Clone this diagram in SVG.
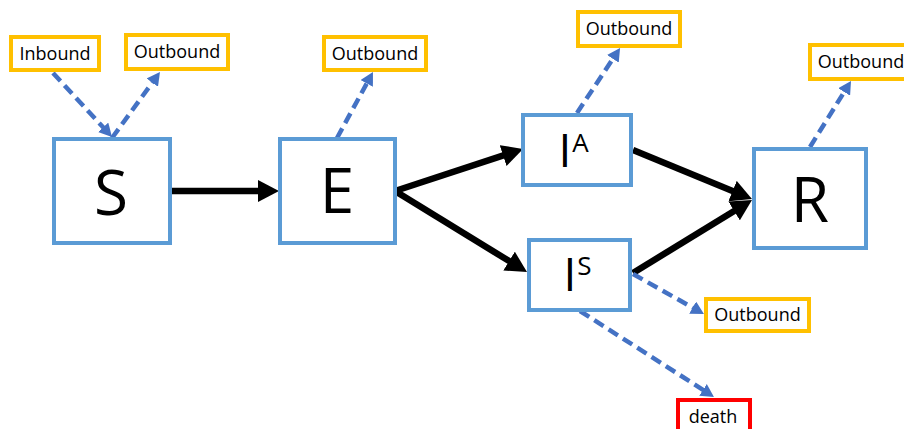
<svg xmlns="http://www.w3.org/2000/svg" width="904" height="429" viewBox="0 0 904 429">
<defs>
<marker id="ah" markerUnits="userSpaceOnUse" markerWidth="22" markerHeight="22" refX="2" refY="11" orient="auto">
<path d="M0,0 L21,11 L0,22 z" fill="#000"/>
</marker>
<marker id="dh" markerUnits="userSpaceOnUse" markerWidth="14" markerHeight="14" refX="2" refY="7" orient="auto">
<path d="M0,0 L13,7 L0,14 z" fill="#4472C4"/>
</marker>
<style>
.st{fill:#fff;stroke:#5B9BD5;stroke-width:4}
.ob{fill:#fff;stroke:#FFC000;stroke-width:4}
.dt{fill:#fff;stroke:#FF0000;stroke-width:4}
.big{font-family:"Open Sans","Liberation Sans",sans-serif;font-size:62px;fill:#000;text-anchor:middle}
.sup{font-family:"Open Sans","Liberation Sans",sans-serif;font-size:46px;fill:#000}
.lb{font-family:"Open Sans","Liberation Sans",sans-serif;font-size:18px;fill:#000;text-anchor:middle}
.solid{stroke:#000;stroke-width:6.5;fill:none;marker-end:url(#ah)}
.dash{stroke:#4472C4;stroke-width:4.5;fill:none;stroke-dasharray:11 6;marker-end:url(#dh)}
</style>
</defs>
<g id="connectors">
<line class="solid" x1="172" y1="191" x2="260" y2="191"/>
<line class="solid" x1="395" y1="191" x2="505" y2="154.9"/>
<line class="solid" x1="395" y1="191" x2="510.8" y2="262.1"/>
<line class="solid" x1="633" y1="150" x2="734.4" y2="191.8"/>
<line class="solid" x1="633" y1="273" x2="735.8" y2="209.9"/>
<line class="dash" x1="53" y1="73" x2="104.5" y2="128.8"/>
<line class="dash" x1="112" y1="138" x2="153.5" y2="81"/>
<line class="dash" x1="337" y1="138" x2="367.7" y2="81.7"/>
<line class="dash" x1="577" y1="113" x2="614" y2="57.1"/>
<line class="dash" x1="810" y1="147" x2="845.2" y2="90.3"/>
<line class="dash" x1="633" y1="274" x2="694.4" y2="308.6"/>
<line class="dash" x1="580" y1="311" x2="704.7" y2="391"/>
</g>
<g id="S">
<rect class="st" x="54" y="139" width="116" height="104"/>
<text class="big" x="111" y="215">S</text>
</g>
<g id="E">
<rect class="st" x="280" y="139" width="115" height="104"/>
<text class="big" x="337" y="213">E</text>
</g>
<g id="IA">
<rect class="st" x="523" y="115" width="108" height="70"/>
<text class="sup" x="558.5" y="167">I<tspan font-size="26" dx="1" dy="-15">A</tspan></text>
</g>
<g id="IS">
<rect class="st" x="529" y="240" width="101" height="70"/>
<text class="sup" x="563.5" y="291">I<tspan font-size="26" dx="1" dy="-16">S</tspan></text>
</g>
<g id="R">
<rect class="st" x="754" y="149" width="112" height="99"/>
<text class="big" x="810" y="222">R</text>
</g>
<g id="inbound">
<rect class="ob" x="11" y="37" width="88" height="33"/>
<text class="lb" x="55" y="59.5">Inbound</text>
</g>
<g id="outbound-s">
<rect class="ob" x="126" y="35" width="102" height="34"/>
<text class="lb" x="177" y="58">Outbound</text>
</g>
<g id="outbound-e">
<rect class="ob" x="324" y="37" width="102" height="33"/>
<text class="lb" x="375" y="59.5">Outbound</text>
</g>
<g id="outbound-ia">
<rect class="ob" x="578" y="12" width="102" height="34"/>
<text class="lb" x="629" y="35">Outbound</text>
</g>
<g id="outbound-r">
<rect class="ob" x="810" y="45" width="102" height="34"/>
<text class="lb" x="861" y="68">Outbound</text>
</g>
<g id="outbound-is">
<rect class="ob" x="706" y="299" width="103" height="32"/>
<text class="lb" x="757.5" y="321">Outbound</text>
</g>
<g id="death">
<rect class="dt" x="678" y="400" width="72" height="40"/>
<text class="lb" x="713" y="423">death</text>
</g>
</svg>
